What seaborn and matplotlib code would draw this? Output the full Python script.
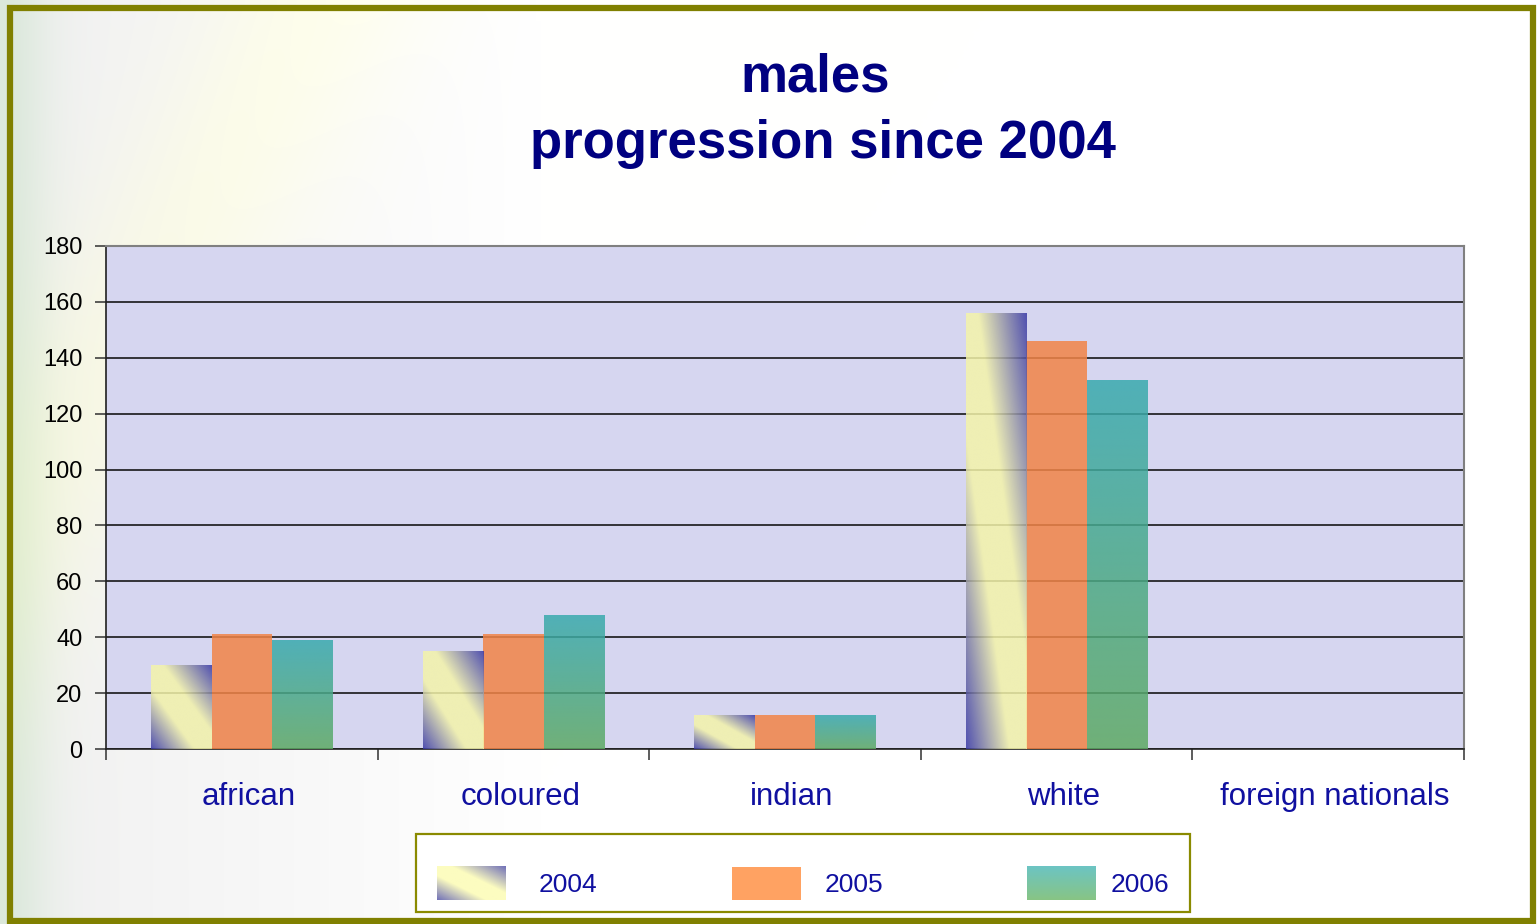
import numpy as np
import pandas as pd
import matplotlib
matplotlib.use("Agg")
import matplotlib.pyplot as plt
import seaborn as sns
from matplotlib.patches import Rectangle, Patch
from matplotlib.legend_handler import HandlerBase
from matplotlib.image import BboxImage
from matplotlib.transforms import Bbox, TransformedBbox, ScaledTranslation

# ---- data ----
categories = ["african", "coloured", "indian", "white", "foreign nationals"]
years = ["2004", "2005", "2006"]
values_2004 = [30, 35, 12, 156, 0]
values_2005 = [41, 41, 12, 146, 0]
values_2006 = [39, 48, 12, 132, 0]
y_ticks = [0, 20, 40, 60, 80, 100, 120, 140, 160, 180]
title_line1 = "males"
title_line2 = "progression since 2004"

df = pd.DataFrame({
    "group": categories * 3,
    "year": [years[0]] * 5 + [years[1]] * 5 + [years[2]] * 5,
    "value": values_2004 + values_2005 + values_2006,
})

plt.rcParams["font.family"] = ["Liberation Sans", "DejaVu Sans"]

W, H = 1539, 924
fig = plt.figure(figsize=(W / 100, H / 100), dpi=100)
fig.patch.set_facecolor("white")

# faint decorative background wash
bg = fig.add_axes([0, 0, 1, 1], zorder=-5)
bg.set_axis_off()
yy, xx = np.mgrid[0:1:200j, 0:1:300j]
d = xx * 1.6 + (1 - yy) * 0.55  # diagonal coordinate
grey = np.clip(1 - xx / 0.35, 0, 1) * 0.06
band = np.exp(-((d - 0.33) / 0.12) ** 2)
edge = np.exp(-(xx / 0.03) ** 2)
img = np.ones((200, 300, 3))
img -= grey[..., None]
img[..., 0] += 0.02 * band - 0.08 * edge
img[..., 1] += 0.02 * band - 0.03 * edge
img[..., 2] -= 0.05 * band + 0.08 * edge
bg.imshow(np.clip(img, 0, 1), extent=(0, 1, 0, 1), aspect="auto",
          interpolation="bilinear", origin="lower")
bg.set_xlim(0, 1)
bg.set_ylim(0, 1)

ax = fig.add_axes([106 / W, 1 - 749 / H, 1358 / W, 503 / H])
ax.set_facecolor("#D6D6F0")

BLUE = np.array([56, 56, 165]) / 255
YELLOW = np.array([244, 244, 169]) / 255
TEAL = np.array([56, 169, 174]) / 255
GREEN = np.array([94, 169, 99]) / 255
ORANGE = "#F28447"

palette = {"2004": "#F4F4A9", "2005": ORANGE, "2006": "#4BA9A4"}
sns.barplot(data=df, x="group", y="value", hue="year", order=categories,
            hue_order=years, palette=palette, width=2 / 3, saturation=1,
            alpha=0.85, ax=ax, legend=False, zorder=3, linewidth=0)


def diag_grad(n=200, m=200, ylw=YELLOW, blu=BLUE):
    u = np.linspace(0, 1, m)[None, :]
    v = np.linspace(0, 1, n)[:, None]
    t = (u + v) / 2
    knots = [0, 0.36, 0.6, 1.0]
    out = np.zeros((n, m, 3))
    for c in range(3):
        out[..., c] = np.interp(t, knots, [blu[c], ylw[c], ylw[c], blu[c]])
    return out  # row 0 = bottom (v=0)


def vert_grad(top, bottom, n=200):
    v = np.linspace(0, 1, n)[:, None, None]
    out = bottom[None, None, :] * (1 - v) + top[None, None, :] * v
    return np.repeat(out, 2, axis=1)  # row 0 = bottom


for idx, maker in [(0, lambda: diag_grad()), (2, lambda: vert_grad(TEAL, GREEN))]:
    for bar in ax.containers[idx]:
        x0, y0 = bar.get_x(), bar.get_y()
        w, h = bar.get_width(), bar.get_height()
        if h <= 0:
            continue
        im = ax.imshow(maker(), extent=(x0, x0 + w, y0, y0 + h), origin="lower",
                       aspect="auto", interpolation="bilinear", alpha=0.85,
                       zorder=3)
        im.set_clip_path(bar)
        bar.set_facecolor("none")

ax.set_xlim(-0.5, 4.5)
ax.set_ylim(0, 180)
ax.set_yticks(y_ticks)
ax.set_yticklabels([str(t) for t in y_ticks])
ax.yaxis.grid(True, color="#181818", linewidth=1.2, zorder=1)
ax.set_axisbelow(True)
ax.set_xlabel("")
ax.set_ylabel("")

ax.set_xticks(np.arange(-0.5, 5.0, 1.0))
ax.set_xticklabels([""] * 6)
ax.set_xticks(np.arange(len(categories)), labels=categories, minor=True)
ax.tick_params(axis="x", which="major", length=8, width=1.1, color="#303030",
               direction="out")
ax.tick_params(axis="x", which="minor", length=0, pad=24, labelsize=22.5,
               labelcolor="#1010A0")
ax.tick_params(axis="y", length=8, width=1.1, color="#303030", pad=9,
               labelsize=17, labelcolor="black")
shift = ScaledTranslation(7 / 100, 0, fig.dpi_scale_trans)
for lab in ax.get_xticklabels(minor=True):
    lab.set_transform(lab.get_transform() + shift)

for side in ["left", "bottom"]:
    ax.spines[side].set_color("#202020")
    ax.spines[side].set_linewidth(1.2)
for side in ["top", "right"]:
    ax.spines[side].set_color("#808080")
    ax.spines[side].set_linewidth(1.5)

# ---- title ----
fig.text(815 / W, 1 - 92 / H, title_line1, ha="center", va="baseline",
         fontsize=38, fontweight="bold", color="#000080")
fig.text(823 / W, 1 - 158 / H, title_line2, ha="center", va="baseline",
         fontsize=38, fontweight="bold", color="#000080")

# ---- legend ----
fig.patches.append(Rectangle((416 / W, 12 / H), 774 / W, 78 / H,
                             transform=fig.transFigure, facecolor="white",
                             edgecolor="#8A8A00", linewidth=1.6, zorder=0))


class GradientHandler(HandlerBase):
    def __init__(self, arr):
        super().__init__()
        self.arr = arr

    def create_artists(self, legend, orig_handle, xdescent, ydescent,
                       width, height, fontsize, trans):
        bb = Bbox.from_bounds(-xdescent, -ydescent, width, height)
        tbb = TransformedBbox(bb, trans)
        im = BboxImage(tbb, interpolation="bilinear", origin="lower")
        im.set_data(self.arr)
        return [im]


LEG_YELLOW = np.array([252, 252, 192]) / 255
LEG_BLUE = np.array([112, 112, 184]) / 255
h04 = Patch(facecolor="#FCFCC0")
h05 = Patch(facecolor="#FFA262", edgecolor="none")
h06 = Patch(facecolor="#78C4B4")
handler_map = {
    h04: GradientHandler(diag_grad(ylw=LEG_YELLOW, blu=LEG_BLUE)),
    h06: GradientHandler(vert_grad(np.array([108, 196, 196]) / 255,
                                   np.array([136, 196, 132]) / 255)),
}
entries = [(h04, years[0], 437, 1.25), (h05, years[1], 732, 0.91),
           (h06, years[2], 1027, 0.57)]
for handle, label, xpix, tpad in entries:
    lg = fig.legend([handle], [label], handler_map=handler_map,
                    loc="center left", bbox_to_anchor=(xpix / W, 1 - 883.5 / H),
                    frameon=False, fontsize=19, handlelength=2.6,
                    handleheight=1.6, handletextpad=tpad, borderpad=0,
                    borderaxespad=0, labelcolor="#1010A0")

# ---- outer frame ----
fig.patches.append(Rectangle((10 / W, 3 / H), 1523 / W, 913 / H,
                             transform=fig.transFigure, fill=False,
                             edgecolor="#808000", linewidth=4.5, zorder=10))

fig.savefig("out.png", dpi=100)
